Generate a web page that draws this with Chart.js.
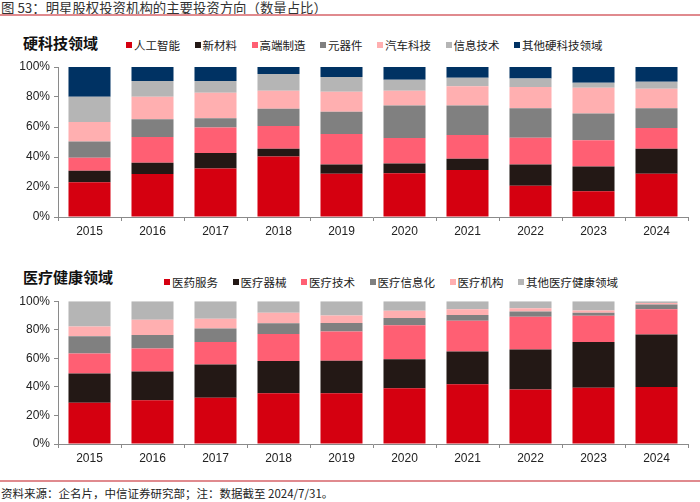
<!DOCTYPE html>
<html>
<head>
<meta charset="utf-8">
<script src="https://cdn.jsdelivr.net/npm/chart.js@4"></script>
<style>
  html,body{margin:0;padding:0;background:#fff;}
  body{width:700px;height:502px;position:relative;overflow:hidden;font-family:"Noto Sans CJK SC","Liberation Sans",sans-serif;}
  .hdr{position:absolute;left:1px;top:-2px;font-size:13.4px;color:#333;line-height:18px;white-space:nowrap;}
  .rule{position:absolute;left:0;width:700px;height:1.5px;background:#e08a8e;}
  .foot{position:absolute;left:1px;top:484px;font-size:11.5px;color:#222;line-height:18px;white-space:nowrap;}
  .ttl{position:absolute;font-size:15px;font-weight:bold;color:#111;line-height:20px;white-space:nowrap;}
  .leg{position:absolute;display:flex;align-items:center;font-size:11.5px;color:#222;white-space:nowrap;line-height:14px;}
  .leg .it{display:flex;align-items:center;margin-right:14.5px;}
  .leg .sw{width:6px;height:6px;margin-right:2px;}
  canvas{position:absolute;left:0;}
</style>
</head>
<body>
<div class="hdr">图 53：明星股权投资机构的主要投资方向（数量占比）</div>
<div class="rule" style="top:14px"></div>
<div class="ttl" style="left:23px;top:33px">硬科技领域</div>
<div class="leg" id="legTech" style="left:126px;top:38px"></div>
<div style="position:absolute;left:0;top:55px;width:700px;height:190px"><canvas id="c1"></canvas></div>
<div class="ttl" style="left:23px;top:267px">医疗健康领域</div>
<div class="leg" id="legMed" style="left:164px;top:275px"></div>
<div style="position:absolute;left:0;top:290px;width:700px;height:180px"><canvas id="c2"></canvas></div>
<div class="rule" style="top:480px"></div>
<div class="foot">资料来源：企名片，中信证券研究部；注：数据截至 2024/7/31。</div>
<script>
const years = ['2015','2016','2017','2018','2019','2020','2021','2022','2023','2024'];
const yTicks = [0,20,40,60,80,100];

// 硬科技领域 (%)
const techNames = ['人工智能','新材料','高端制造','元器件','汽车科技','信息技术','其他硬科技领域'];
const techAI      = [23.2,28.6,32.4,40.4,28.8,29.2,31.3,20.8,17.2,28.8];
const techMat     = [7.6, 7.6,10.2, 5.1, 6.2, 6.5, 7.5,14.2,16.5,16.7];
const techMfg     = [8.7,17.1,17.0,15.2,20.4,17.0,15.9,17.9,17.4,13.9];
const techComp    = [10.9,11.9,6.2,11.4,14.7,21.6,19.6,19.6,17.9,13.1];
const techAuto    = [13.0,14.9,17.0,12.1,13.4, 9.9,12.8,14.1,17.2,13.0];
const techIT      = [16.7,10.5, 7.8,11.1, 9.8, 7.3, 5.8, 5.8, 3.3, 4.7];
const techOther   = [19.9, 9.4, 9.4, 4.7, 6.7, 8.5, 7.1, 7.6,10.5, 9.8];

// 医疗健康领域 (%)
const medNames = ['医药服务','医疗器械','医疗技术','医疗信息化','医疗机构','其他医疗健康领域'];
const medPharma   = [28.9,30.6,32.4,35.6,35.6,39.1,41.9,38.2,39.4,40.0];
const medDevice   = [20.4,20.1,23.2,22.5,22.7,20.2,22.9,28.0,32.1,36.6];
const medTech     = [14.1,16.2,15.9,19.0,20.4,23.8,21.5,22.9,18.3,17.8];
const medInfo     = [12.1, 9.5, 9.3, 7.4, 6.0, 5.1, 4.0, 3.7, 2.1, 3.3];
const medInst     = [6.7,10.6, 6.9, 7.4, 5.3, 5.1, 4.1, 2.3, 1.6, 1.1];
const medOther    = [17.8,13.0,12.3,8.1,10.0, 6.7, 5.6, 4.9, 6.5, 1.2];

const techColors = ['#d50010','#231815','#ff5f73','#808080','#ffafb0','#b5b5b5','#003263'];
const medColors  = ['#d50010','#231815','#ff5f73','#808080','#ffafb0','#b5b5b5'];

function buildLegend(id, names, colors){
  const el = document.getElementById(id);
  names.forEach((n,i)=>{
    const it = document.createElement('div'); it.className='it';
    const sw = document.createElement('span'); sw.className='sw'; sw.style.background=colors[i];
    const tx = document.createElement('span'); tx.textContent=n;
    it.appendChild(sw); it.appendChild(tx); el.appendChild(it);
  });
}
buildLegend('legTech', techNames, techColors);
buildLegend('legMed', medNames, medColors);

function makeChart(canvasId, seriesArr, names, colors, padTop, xHeight){
  const datasets = seriesArr.map((d,i)=>({
    label: names[i], data: d, backgroundColor: colors[i],
    borderWidth: 0, barPercentage: 0.667, categoryPercentage: 1.0
  }));
  return new Chart(document.getElementById(canvasId), {
    type:'bar',
    data:{labels: years, datasets},
    options:{
      responsive:true, maintainAspectRatio:false, animation:false,
      layout:{padding:{top:padTop, right:12, left:0, bottom:0}},
      plugins:{legend:{display:false}, tooltip:{enabled:false}},
      scales:{
        x:{stacked:true,
          grid:{display:true, drawOnChartArea:false, drawTicks:true, tickLength:4, color:'#8a8a8a', offset:true},
          border:{display:true, color:'#8a8a8a', width:1},
          ticks:{color:'#222', font:{family:'Liberation Sans, Arial', size:12}, padding:3},
          afterFit:(s)=>{s.height = xHeight;}
        },
        y:{stacked:true, min:0, max:100,
          afterBuildTicks:(s)=>{s.ticks = yTicks.map(v=>({value:v}));},
          grid:{display:true, drawOnChartArea:false, drawTicks:true, tickLength:4, color:'#8a8a8a'},
          border:{display:true, color:'#8a8a8a', width:1},
          ticks:{color:'#222', font:{family:'Liberation Sans, Arial', size:12}, padding:4, callback:(v)=>v+'%'},
          afterFit:(s)=>{s.width = 58;}
        }
      }
    }
  });
}
makeChart('c1',[techAI,techMat,techMfg,techComp,techAuto,techIT,techOther],techNames,techColors,12,28);
makeChart('c2',[medPharma,medDevice,medTech,medInfo,medInst,medOther],medNames,medColors,10,26);
</script>
</body>
</html>
